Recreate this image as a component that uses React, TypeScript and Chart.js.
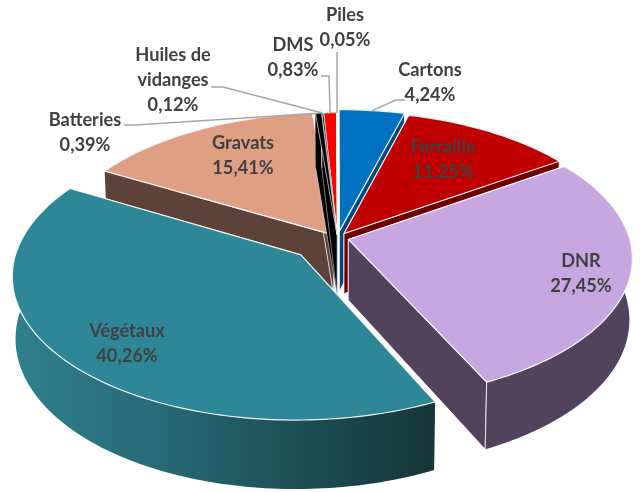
import React, { useEffect, useRef } from "react";
import { Chart, registerables } from "chart.js";

Chart.register(...registerables);

const categories = ["Cartons", "Ferraille", "DNR", "Végétaux", "Gravats", "Batteries", "Huiles de vidanges", "DMS", "Piles"];
const shares = [4.24, 11.25, 27.45, 40.26, 15.41, 0.39, 0.12, 0.83, 0.05];
const valueLabels = ["4,24%", "11,25%", "27,45%", "40,26%", "15,41%", "0,39%", "0,12%", "0,83%", "0,05%"];
const explode = [10, 8, 8, 35, 5, 4, 4, 4, 4];
const topColors = ["#0070C0", "#C00000", "#C8A6E0", "#2E8797", "#DE9F85", "#000000", "#000000", "#FF0000", "#A9D3E6"];
const wallColors = ["#004A80", "#6E0000", "#52425C", "#2E8797", "#5C4238", "#000000", "#000000", "#000000", "#FFFFFF"];
const paintOrder = [4, 7, 8, 6, 5, 0, 1, 2, 3];

const nameLines = [["Cartons"], ["Ferraille"], ["DNR"], ["Végétaux"], ["Gravats"], ["Batteries"], ["Huiles de", "vidanges"], ["DMS"], ["Piles"]];
const labelCentres = [[430, 70], [443, 147], [581, 261], [127, 331], [243, 143], [85, 120], [173, 55], [293, 45], [345, 15]];
const leaderStarts: (number[][] | null)[] = [
  [[405, 100], [396, 100]],
  null,
  null,
  null,
  null,
  [[124, 125], [135, 125]],
  [[211, 87], [223, 87]],
  [[321, 76], [329, 76]],
  [[337, 52]],
];

const VIEW = { cx: 337.5, cy: 238, rx: 281, ry: 139, persp: 0.13, depth: 60.5, shrink: 0.99 };

function project(X: number, Y: number, bottom: boolean): [number, number] {
  const w = 1 + VIEW.persp * Y;
  const s = bottom ? VIEW.shrink : 1;
  return [
    VIEW.cx + (s * VIEW.rx * X) / w,
    VIEW.cy - (s * VIEW.ry * Y) / w + (bottom ? VIEW.depth / w : 0),
  ];
}

function sliceGeometry(el: any) {
  const R = el.outerRadius;
  const a0 = el.startAngle;
  const a1 = el.endAngle;
  const mid = (a0 + a1) / 2;
  const f = (el.options.offset || 0) / R;
  const ax = f * Math.cos(mid);
  const ay = -f * Math.sin(mid);
  const arc = (t: number) => [ax + Math.cos(t), ay - Math.sin(t)];
  return { a0, a1, mid, ax, ay, arc };
}

function wallFill(ctx: CanvasRenderingContext2D, i: number) {
  if (i !== 3) return wallColors[i];
  const g = ctx.createLinearGradient(15, 0, 435, 0);
  g.addColorStop(0, "#2F808D");
  g.addColorStop(0.35, "#276A75");
  g.addColorStop(0.7, "#1B4C53");
  g.addColorStop(1, "#163638");
  return g;
}

function drawSlice(ctx: CanvasRenderingContext2D, el: any, i: number) {
  const { a0, a1, ax, ay, arc } = sliceGeometry(el);
  const tiny = a1 - a0 < 0.1;
  const steps = Math.max(2, Math.ceil((a1 - a0) / 0.02));
  const pts: number[][] = [];
  for (let k = 0; k <= steps; k++) pts.push(arc(a0 + ((a1 - a0) * k) / steps));
  const line = (p: [number, number], first = false) => (first ? ctx.moveTo(p[0], p[1]) : ctx.lineTo(p[0], p[1]));
  const face = (e: number[]) => {
    ctx.beginPath();
    line(project(ax, ay, false), true);
    line(project(e[0], e[1], false));
    line(project(e[0], e[1], true));
    line(project(ax, ay, true));
    ctx.closePath();
    ctx.fillStyle = i === 3 ? "#1B4C53" : wallColors[i];
    ctx.fill();
    ctx.lineWidth = tiny ? 0.6 : 1;
    ctx.strokeStyle = "rgba(255,255,255,0.8)";
    ctx.stroke();
  };
  face(pts[0]);
  face(pts[steps]);

  ctx.beginPath();
  pts.forEach((p, k) => line(project(p[0], p[1], false), k === 0));
  for (let k = steps; k >= 0; k--) line(project(pts[k][0], pts[k][1], true));
  ctx.closePath();
  ctx.fillStyle = wallFill(ctx, i);
  ctx.fill();

  ctx.beginPath();
  line(project(pts[steps][0], pts[steps][1], false), true);
  line(project(pts[steps][0], pts[steps][1], true));
  ctx.lineWidth = 1;
  ctx.strokeStyle = "rgba(255,255,255,0.75)";
  ctx.stroke();

  ctx.beginPath();
  line(project(ax, ay, false), true);
  pts.forEach((p) => line(project(p[0], p[1], false)));
  ctx.closePath();
  ctx.fillStyle = topColors[i];
  ctx.fill();
  ctx.lineWidth = tiny ? 0.7 : 1.2;
  ctx.strokeStyle = "rgba(255,255,255,0.9)";
  ctx.stroke();
}

const pie3d = {
  id: "pie3d",
  beforeDatasetsDraw(chart: any) {
    const ctx = chart.ctx;
    const els = chart.getDatasetMeta(0).data;
    ctx.save();
    ctx.lineJoin = "round";
    paintOrder.forEach((i) => drawSlice(ctx, els[i], i));
    ctx.restore();
    return false;
  },
  afterDraw(chart: any) {
    const ctx = chart.ctx;
    const els = chart.getDatasetMeta(0).data;
    ctx.save();
    leaderStarts.forEach((starts, i) => {
      if (!starts) return;
      const g = sliceGeometry(els[i]);
      const tip = g.arc(g.mid);
      const end = project(tip[0], tip[1], false);
      ctx.beginPath();
      starts.forEach((p, k) => (k === 0 ? ctx.moveTo(p[0], p[1]) : ctx.lineTo(p[0], p[1])));
      ctx.lineTo(end[0], end[1]);
      ctx.lineWidth = 1.5;
      ctx.strokeStyle = "#A6A6A6";
      ctx.stroke();
    });
    ctx.font = "bold 18.2px Lato, sans-serif";
    ctx.textAlign = "center";
    ctx.textBaseline = "middle";
    ctx.fillStyle = "#404040";
    nameLines.forEach((names, i) => {
      const [x, y] = labelCentres[i];
      [...names, valueLabels[i]].forEach((t, k) => ctx.fillText(t, x, y + k * 25));
    });
    ctx.restore();
  },
};

export default function App() {
  const ref = useRef<HTMLCanvasElement | null>(null);
  useEffect(() => {
    document.body.style.margin = "0";
    document.body.style.background = "#fff";
    const chart = new Chart(ref.current as HTMLCanvasElement, {
      type: "pie",
      data: {
        labels: categories,
        datasets: [{ data: shares, offset: explode, backgroundColor: topColors, borderWidth: 0 } as any],
      },
      options: {
        responsive: false,
        animation: false,
        radius: 200,
        layout: { padding: 0 },
        events: [],
        plugins: { legend: { display: false }, tooltip: { enabled: false } },
      } as any,
      plugins: [pie3d as any],
    });
    return () => chart.destroy();
  }, []);
  return <canvas ref={ref} width={640} height={492} style={{ display: "block" }} />;
}
